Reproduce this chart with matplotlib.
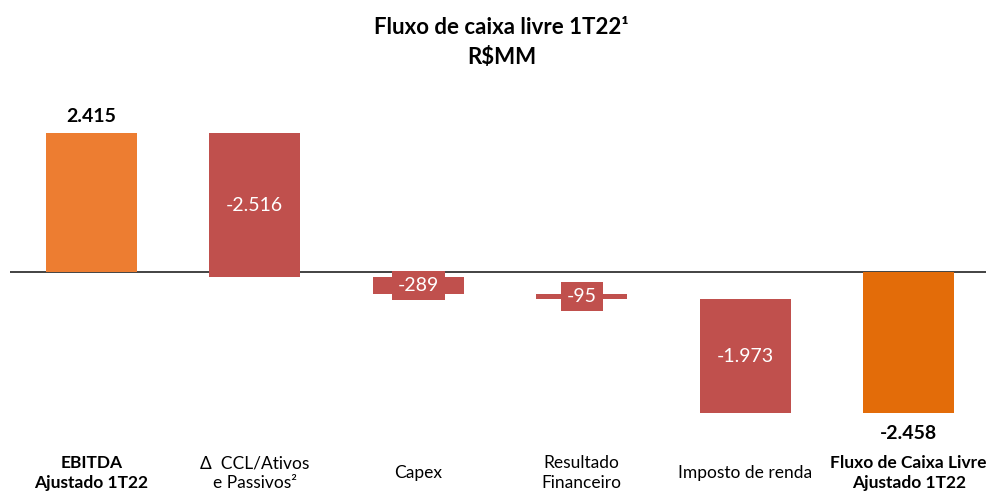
import matplotlib
matplotlib.use("Agg")
import matplotlib.pyplot as plt
import matplotlib.transforms as mtransforms
import numpy as np

plt.rcParams['font.family'] = ['Lato', 'DejaVu Sans']

categories = ["EBITDA\nAjustado 1T22", "Δ  CCL/Ativos\ne Passivos²", "Capex",
              "Resultado\nFinanceiro", "Imposto de renda",
              "Fluxo de Caixa Livre\nAjustado 1T22"]
values = [2415, -2516, -289, -95, -1973, -2458]
labels = ["2.415", "-2.516", "-289", "-95", "-1.973", "-2.458"]
kinds = ["total", "delta", "delta", "delta", "delta", "total"]
bold_cats = [True, False, False, False, False, True]
colors = {"first": "#ED7D31", "delta": "#C0504D", "last": "#E36C09"}

fig = plt.figure(figsize=(9.87, 4.92), dpi=100)
ax = fig.add_axes([10/987, 1-440/492, 977/987, 330/492])

x = np.arange(len(values))
running = 0
for i, (v, k) in enumerate(zip(values, kinds)):
    if k == "total":
        bottom, height = 0, v
        col = colors["first"] if i == 0 else colors["last"]
        running = v
    else:
        bottom, height = running, v
        running += v
        col = colors["delta"]
    ax.bar(x[i], height, bottom=bottom, width=0.557, color=col, zorder=2)
    top = max(bottom, bottom + height)
    low = min(bottom, bottom + height)
    if k == "total":
        if v >= 0:
            ax.text(x[i], top + 290, labels[i], ha="center", va="center",
                    fontsize=14, fontweight="bold", color="black")
        else:
            ax.text(x[i], low - 360, labels[i], ha="center", va="center",
                    fontsize=14, fontweight="bold", color="black")
    else:
        mid = (top + low) / 2
        if abs(v) > 1000:
            ax.text(x[i], mid, labels[i], ha="center", va="center",
                    fontsize=14, color="white")
        else:
            ax.text(x[i], mid, labels[i], ha="center", va="center",
                    fontsize=14, color="white", zorder=3,
                    bbox=dict(boxstyle="square,pad=0.3", fc=colors["delta"],
                              ec="none"))

ax.axhline(0, color="#222222", lw=1.2, zorder=1)
ax.set_xlim((10-91.2)/163.5, (987-91.2)/163.5)
ax.set_ylim(-2937, 2822)
ax.axis("off")

trans = mtransforms.blended_transform_factory(ax.transData, fig.transFigure)
for i, c in enumerate(categories):
    ax.text(x[i], 1-473/492, c, transform=trans, ha="center", va="center",
            fontsize=12.5, fontweight="bold" if bold_cats[i] else "normal",
            linespacing=1.3, clip_on=False)

fig.text(0.508, 1-27/492, "Fluxo de caixa livre 1T22¹", ha="center", va="center",
         fontsize=16, fontweight="bold")
fig.text(0.508, 1-58/492, "R$MM", ha="center", va="center",
         fontsize=16, fontweight="bold")

fig.savefig("out.png", dpi=100)
